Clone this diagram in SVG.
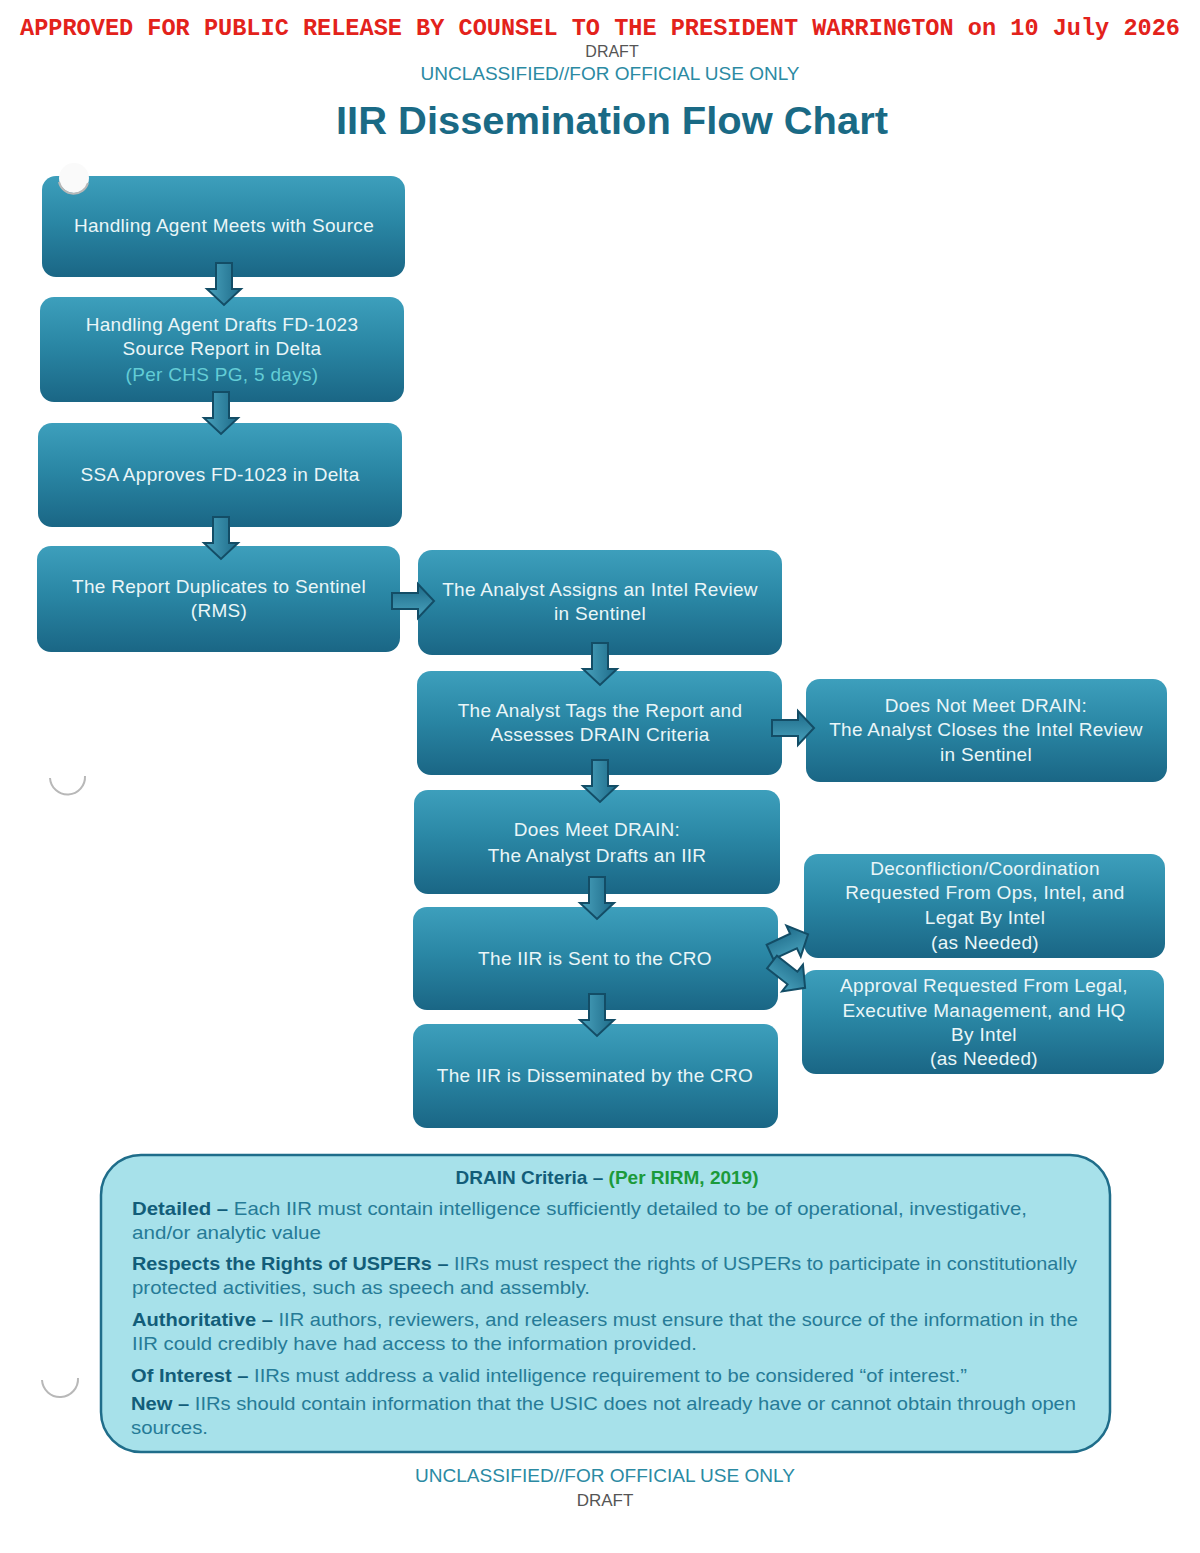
<svg xmlns="http://www.w3.org/2000/svg" xmlns:xlink="http://www.w3.org/1999/xlink" width="1200" height="1553" viewBox="0 0 1200 1553">
<defs>
<linearGradient id="boxGrad" x1="0" y1="0" x2="0" y2="1">
<stop offset="0" stop-color="#3d9fbc"/>
<stop offset="0.45" stop-color="#2a87a5"/>
<stop offset="1" stop-color="#1a6685"/>
</linearGradient>
<linearGradient id="arrGrad" x1="0" y1="0" x2="1" y2="0">
<stop offset="0" stop-color="#4aa3be"/>
<stop offset="1" stop-color="#1d6a88"/>
</linearGradient>
<path id="arrowDown" d="M-8,0 H8 V26 H17 L0,42 L-17,26 H-8 Z"/>
<style>
.box{fill:url(#boxGrad);}
.nt{font-family:"Liberation Sans","Open Sans",sans-serif;font-size:19px;fill:#eaf6f8;text-anchor:middle;letter-spacing:0.3px;}
.nt2{fill:#63cdd6;}
.arr{fill:url(#arrGrad);stroke:#134d66;stroke-width:2;stroke-linejoin:miter;}
.hdr{font-family:"Liberation Sans",Arial,sans-serif;text-anchor:middle;}
.ct{font-family:"Liberation Sans",Arial,sans-serif;font-size:19px;fill:#267b97;}
.cb{font-weight:bold;fill:#125d79;}
.hole{fill:none;stroke:#b8b8b8;stroke-width:2;}
</style>
</defs>
<rect width="1200" height="1553" fill="#ffffff"/>

<!-- header -->
<text x="600" y="35" text-anchor="middle" font-family="Liberation Mono,'Courier New',monospace" font-weight="bold" font-size="23" fill="#e3221b" textLength="1160" lengthAdjust="spacingAndGlyphs">APPROVED FOR PUBLIC RELEASE BY COUNSEL TO THE PRESIDENT WARRINGTON on 10 July 2026</text>
<text class="hdr" x="612" y="57" font-size="16" fill="#555555">DRAFT</text>
<text class="hdr" x="610" y="80" font-size="18" fill="#2b8aa3" textLength="379" lengthAdjust="spacingAndGlyphs">UNCLASSIFIED//FOR OFFICIAL USE ONLY</text>
<text class="hdr" x="612" y="134" font-size="38" font-weight="bold" fill="#1a6a85" textLength="552" lengthAdjust="spacingAndGlyphs">IIR Dissemination Flow Chart</text>

<!-- nodes -->
<g id="n1"><rect class="box" x="42" y="176" width="363" height="101" rx="14"/>
<text class="nt" x="224" y="232">Handling Agent Meets with Source</text></g>
<g id="n2"><rect class="box" x="40" y="297" width="364" height="105" rx="14"/>
<text class="nt" x="222" y="331">Handling Agent Drafts FD-1023</text>
<text class="nt" x="222" y="355">Source Report in Delta</text>
<text class="nt nt2" x="222" y="381">(Per CHS PG, 5 days)</text></g>
<g id="n3"><rect class="box" x="38" y="423" width="364" height="104" rx="14"/>
<text class="nt" x="220" y="481">SSA Approves FD-1023 in Delta</text></g>
<g id="n4"><rect class="box" x="37" y="546" width="363" height="106" rx="14"/>
<text class="nt" x="219" y="593">The Report Duplicates to Sentinel</text>
<text class="nt" x="219" y="617">(RMS)</text></g>
<g id="n5"><rect class="box" x="418" y="550" width="364" height="105" rx="14"/>
<text class="nt" x="600" y="596">The Analyst Assigns an Intel Review</text>
<text class="nt" x="600" y="620">in Sentinel</text></g>
<g id="n6"><rect class="box" x="417" y="671" width="365" height="104" rx="14"/>
<text class="nt" x="600" y="717">The Analyst Tags the Report and</text>
<text class="nt" x="600" y="741">Assesses DRAIN Criteria</text></g>
<g id="n7"><rect class="box" x="806" y="679" width="361" height="103" rx="14"/>
<text class="nt" x="986" y="712">Does Not Meet DRAIN:</text>
<text class="nt" x="986" y="736">The Analyst Closes the Intel Review</text>
<text class="nt" x="986" y="761">in Sentinel</text></g>
<g id="n8"><rect class="box" x="414" y="790" width="366" height="104" rx="14"/>
<text class="nt" x="597" y="836">Does Meet DRAIN:</text>
<text class="nt" x="597" y="862">The Analyst Drafts an IIR</text></g>
<g id="n9"><rect class="box" x="413" y="907" width="365" height="103" rx="14"/>
<text class="nt" x="595" y="965">The IIR is Sent to the CRO</text></g>
<g id="n10"><rect class="box" x="804" y="854" width="361" height="104" rx="14"/>
<text class="nt" x="985" y="875">Deconfliction/Coordination</text>
<text class="nt" x="985" y="899">Requested From Ops, Intel, and</text>
<text class="nt" x="985" y="924">Legat By Intel</text>
<text class="nt" x="985" y="949">(as Needed)</text></g>
<g id="n11"><rect class="box" x="802" y="970" width="362" height="104" rx="14"/>
<text class="nt" x="984" y="992">Approval Requested From Legal,</text>
<text class="nt" x="984" y="1017">Executive Management, and HQ</text>
<text class="nt" x="984" y="1041">By Intel</text>
<text class="nt" x="984" y="1065">(as Needed)</text></g>
<g id="n12"><rect class="box" x="413" y="1024" width="365" height="104" rx="14"/>
<text class="nt" x="595" y="1082">The IIR is Disseminated by the CRO</text></g>

<!-- connectors -->
<g id="connectors">
<use xlink:href="#arrowDown" class="arr" transform="translate(224,263)"/>
<use xlink:href="#arrowDown" class="arr" transform="translate(221,392)"/>
<use xlink:href="#arrowDown" class="arr" transform="translate(221,517)"/>
<use xlink:href="#arrowDown" class="arr" transform="translate(392,601) rotate(-90)"/>
<use xlink:href="#arrowDown" class="arr" transform="translate(600,643)"/>
<use xlink:href="#arrowDown" class="arr" transform="translate(772,728) rotate(-90)"/>
<use xlink:href="#arrowDown" class="arr" transform="translate(600,760)"/>
<use xlink:href="#arrowDown" class="arr" transform="translate(597,877)"/>
<use xlink:href="#arrowDown" class="arr" transform="translate(597,994)"/>
<use xlink:href="#arrowDown" class="arr" transform="translate(770,952) rotate(-115)"/>
<use xlink:href="#arrowDown" class="arr" transform="translate(772,962) rotate(-52)"/>
</g>

<!-- hole punches -->
<circle cx="74" cy="178" r="15" fill="#fafafa"/>
<path class="hole" d="M59,182 A15,15 0 0 0 88,183"/>
<path class="hole" d="M50,778 A17,17 0 0 0 85,776"/>
<path class="hole" d="M42,1380 A17,17 0 0 0 78,1378"/>

<!-- DRAIN criteria -->
<g id="criteria">
<rect x="101" y="1155" width="1009" height="297" rx="40" fill="#a7e1ea" stroke="#1f6d8a" stroke-width="2.5"/>
<text x="607" y="1184" text-anchor="middle" font-family="'Liberation Sans',Arial,sans-serif" font-size="19" font-weight="bold" fill="#125d79">DRAIN Criteria – <tspan fill="#1b9a3a">(Per RIRM, 2019)</tspan></text>
<text class="ct" x="132" y="1215" textLength="895" lengthAdjust="spacingAndGlyphs"><tspan class="cb">Detailed –</tspan> Each IIR must contain intelligence sufficiently detailed to be of operational, investigative,</text>
<text class="ct" x="132" y="1239" textLength="189" lengthAdjust="spacingAndGlyphs">and/or analytic value</text>
<text class="ct" x="132" y="1270" textLength="945" lengthAdjust="spacingAndGlyphs"><tspan class="cb">Respects the Rights of USPERs –</tspan> IIRs must respect the rights of USPERs to participate in constitutionally</text>
<text class="ct" x="132" y="1294" textLength="458" lengthAdjust="spacingAndGlyphs">protected activities, such as speech and assembly.</text>
<text class="ct" x="132" y="1326" textLength="946" lengthAdjust="spacingAndGlyphs"><tspan class="cb">Authoritative –</tspan> IIR authors, reviewers, and releasers must ensure that the source of the information in the</text>
<text class="ct" x="132" y="1350" textLength="565" lengthAdjust="spacingAndGlyphs">IIR could credibly have had access to the information provided.</text>
<text class="ct" x="131" y="1382" textLength="836" lengthAdjust="spacingAndGlyphs"><tspan class="cb">Of Interest –</tspan> IIRs must address a valid intelligence requirement to be considered “of interest.”</text>
<text class="ct" x="131" y="1410" textLength="945" lengthAdjust="spacingAndGlyphs"><tspan class="cb">New –</tspan> IIRs should contain information that the USIC does not already have or cannot obtain through open</text>
<text class="ct" x="131" y="1434" textLength="77" lengthAdjust="spacingAndGlyphs">sources.</text>
</g>

<!-- footer -->
<text class="hdr" x="605" y="1482" font-size="18" fill="#2b8aa3" textLength="380" lengthAdjust="spacingAndGlyphs">UNCLASSIFIED//FOR OFFICIAL USE ONLY</text>
<text class="hdr" x="605" y="1506" font-size="17" fill="#555555">DRAFT</text>
</svg>
